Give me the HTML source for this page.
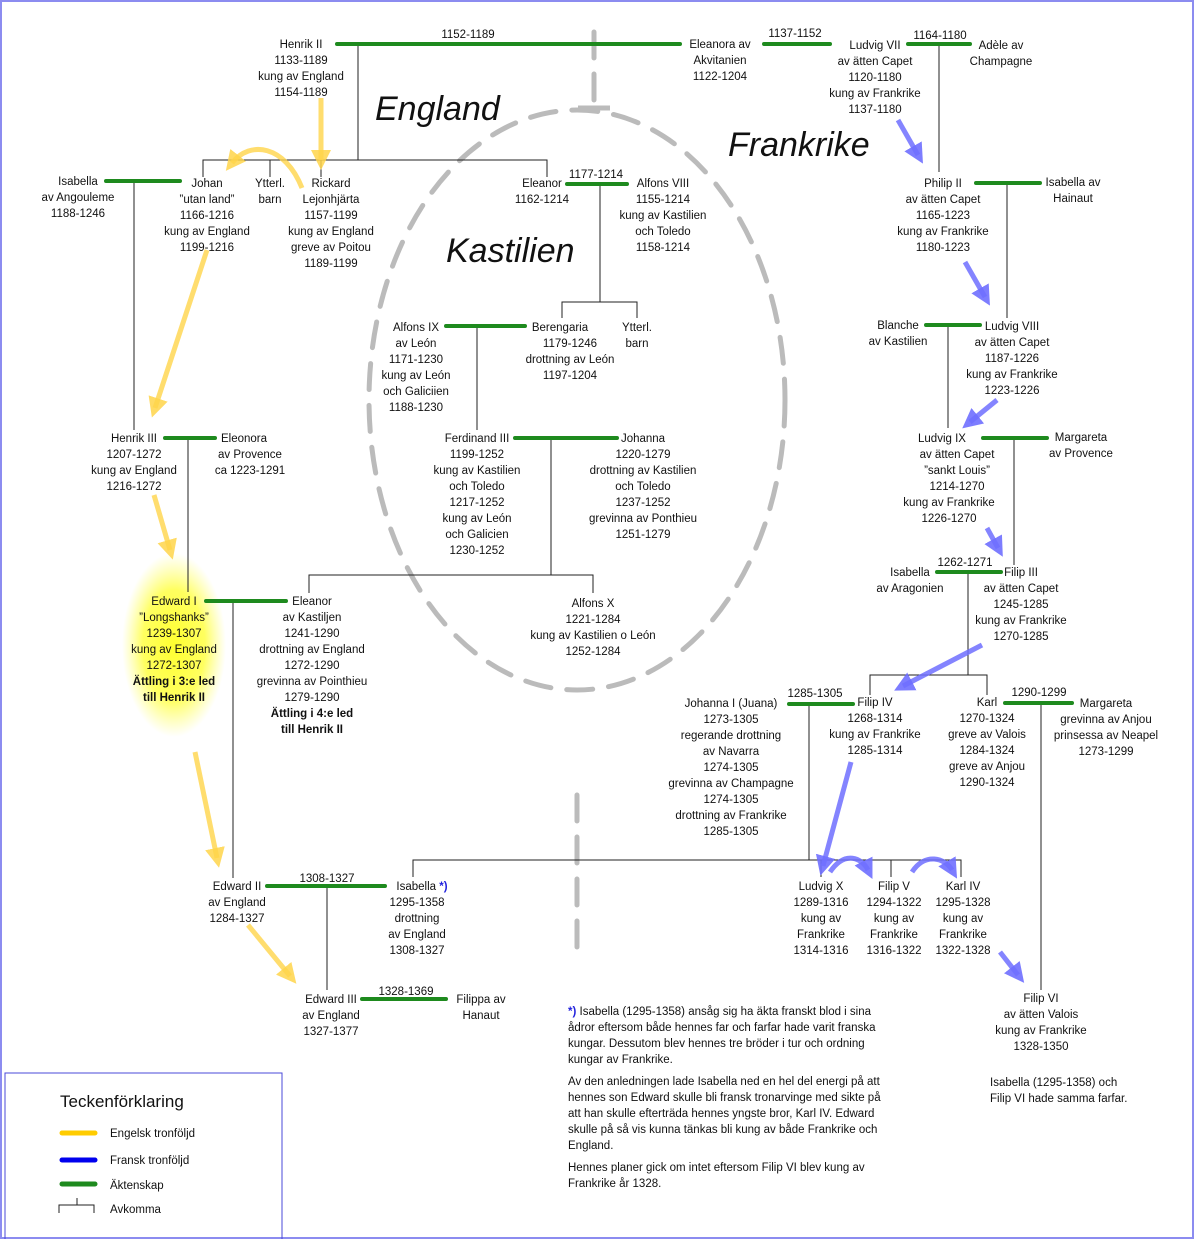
<!DOCTYPE html>
<html><head><meta charset="utf-8"><style>
html,body{margin:0;padding:0;background:#fff}
svg{display:block}
text{font-family:"Liberation Sans",sans-serif;font-size:11.5px;fill:#111}
.c{text-anchor:middle}
.g{stroke:#1e8a1e;stroke-width:4;stroke-linecap:round}
.k{stroke:#222;stroke-width:1;fill:none}
.y{stroke:#ffd54a;stroke-opacity:.8;stroke-width:5;fill:none}
.b{stroke:#6f6fff;stroke-opacity:.85;stroke-width:5;fill:none}
.big{font-size:34px;font-style:italic}
</style></head><body>
<svg width="1194" height="1239" viewBox="0 0 1194 1239" xmlns="http://www.w3.org/2000/svg">
<defs>
<radialGradient id="glow"><stop offset="0" stop-color="#ffff30"/><stop offset=".6" stop-color="#ffff60"/><stop offset="1" stop-color="#ffff80" stop-opacity="0"/></radialGradient>
<marker id="ya" markerWidth="4" markerHeight="4" refX="2" refY="2" orient="auto" markerUnits="strokeWidth"><path d="M0,0 L4,2 L0,4z" fill="#ffd54a" fill-opacity=".85"/></marker>
<marker id="ba" markerWidth="4" markerHeight="4" refX="2" refY="2" orient="auto" markerUnits="strokeWidth"><path d="M0,0 L4,2 L0,4z" fill="#6f6fff" fill-opacity=".9"/></marker>
</defs>
<rect x="1" y="1" width="1192" height="1237" fill="none" stroke="#8c8cf0" stroke-width="2"/>
<ellipse cx="174" cy="645" rx="52" ry="92" fill="url(#glow)"/>

<g stroke="#bbb" stroke-width="5" fill="none" stroke-dasharray="26,16" stroke-linecap="round">
<ellipse cx="577" cy="400" rx="208" ry="290"/>
<line x1="577" y1="795" x2="577" y2="952"/>
<line x1="594" y1="32" x2="594" y2="100"/>
</g>
<line x1="578" y1="108" x2="610" y2="108" stroke="#bbb" stroke-width="5"/>

<g class="k">
<path d="M358 44V160M203 177V160H547V177M270 160V177M321 160V177"/>
<path d="M134 181V430"/>
<path d="M939 44V172"/>
<path d="M600 184V302M562 318V302H637V318"/>
<path d="M1007 183V318"/>
<path d="M477 326V430"/>
<path d="M948 325V428"/>
<path d="M188 438V592"/>
<path d="M551 438V575M309 593V575H593V593"/>
<path d="M1014 438V565"/>
<path d="M233 601V878"/>
<path d="M968 572V675M870 695V675H987V695"/>
<path d="M809 704V860M413 877V860H961V877M821 860V877M891 860V877"/>
<path d="M327 886V990"/>
<path d="M1041 703V990"/>
</g>

<g class="g">
<line x1="337" y1="44" x2="680" y2="44"/>
<line x1="764" y1="44" x2="830" y2="44"/>
<line x1="908" y1="44" x2="970" y2="44"/>
<line x1="106" y1="181" x2="180" y2="181"/>
<line x1="567" y1="184" x2="627" y2="184"/>
<line x1="976" y1="183" x2="1040" y2="183"/>
<line x1="446" y1="326" x2="525" y2="326"/>
<line x1="926" y1="325" x2="980" y2="325"/>
<line x1="165" y1="438" x2="215" y2="438"/>
<line x1="515" y1="438" x2="617" y2="438"/>
<line x1="983" y1="438" x2="1047" y2="438"/>
<line x1="206" y1="601" x2="286" y2="601"/>
<line x1="937" y1="572" x2="1001" y2="572"/>
<line x1="789" y1="704" x2="853" y2="704"/>
<line x1="1005" y1="703" x2="1072" y2="703"/>
<line x1="267" y1="886" x2="385" y2="886"/>
<line x1="362" y1="999" x2="446" y2="999"/>
</g>

<g class="y" marker-end="url(#ya)">
<path d="M321 98V160"/>
<path d="M302 188C285 145 250 140 232 163"/>
<path d="M207 250L155 408"/>
<path d="M154 495L170 550"/>
<path d="M195 752L217 858"/>
<path d="M248 925L290 976"/>
</g>
<g class="b" marker-end="url(#ba)">
<path d="M898 120L918 155"/>
<path d="M965 262L985 297"/>
<path d="M997 400L970 422"/>
<path d="M987 528L998 548"/>
<path d="M982 645L903 686"/>
<path d="M851 762L823 866"/>
<path d="M830 872C845 850 862 858 868 870"/>
<path d="M912 872C925 852 945 858 952 870"/>
<path d="M1000 952L1018 975"/>
</g>

<text class="big" x="375" y="120">England</text>
<text class="big" x="728" y="156">Frankrike</text>
<text class="big" x="446" y="262">Kastilien</text>

<g class="c">
<text x="468" y="38">1152-1189</text>
<text x="795" y="37">1137-1152</text>
<text x="940" y="39">1164-1180</text>
<text x="596" y="178">1177-1214</text>
<text x="965" y="566">1262-1271</text>
<text x="815" y="697">1285-1305</text>
<text x="1039" y="696">1290-1299</text>
<text x="327" y="882">1308-1327</text>
<text x="406" y="995">1328-1369</text>
</g>

<g class="c">
<text x="301" y="48"><tspan x="301">Henrik II</tspan><tspan x="301" dy="16">1133-1189</tspan><tspan x="301" dy="16">kung av England</tspan><tspan x="301" dy="16">1154-1189</tspan></text>
<text x="720" y="48"><tspan x="720">Eleanora av</tspan><tspan x="720" dy="16">Akvitanien</tspan><tspan x="720" dy="16">1122-1204</tspan></text>
<text x="875" y="49"><tspan x="875">Ludvig VII</tspan><tspan x="875" dy="16">av ätten Capet</tspan><tspan x="875" dy="16">1120-1180</tspan><tspan x="875" dy="16">kung av Frankrike</tspan><tspan x="875" dy="16">1137-1180</tspan></text>
<text x="1001" y="49"><tspan x="1001">Adèle av</tspan><tspan x="1001" dy="16">Champagne</tspan></text>
<text x="78" y="185"><tspan x="78">Isabella</tspan><tspan x="78" dy="16">av Angouleme</tspan><tspan x="78" dy="16">1188-1246</tspan></text>
<text x="207" y="187"><tspan x="207">Johan</tspan><tspan x="207" dy="16">”utan land”</tspan><tspan x="207" dy="16">1166-1216</tspan><tspan x="207" dy="16">kung av England</tspan><tspan x="207" dy="16">1199-1216</tspan></text>
<text x="270" y="187"><tspan x="270">Ytterl.</tspan><tspan x="270" dy="16">barn</tspan></text>
<text x="331" y="187"><tspan x="331">Rickard</tspan><tspan x="331" dy="16">Lejonhjärta</tspan><tspan x="331" dy="16">1157-1199</tspan><tspan x="331" dy="16">kung av England</tspan><tspan x="331" dy="16">greve av Poitou</tspan><tspan x="331" dy="16">1189-1199</tspan></text>
<text x="542" y="187"><tspan x="542">Eleanor</tspan><tspan x="542" dy="16">1162-1214</tspan></text>
<text x="663" y="187"><tspan x="663">Alfons VIII</tspan><tspan x="663" dy="16">1155-1214</tspan><tspan x="663" dy="16">kung av  Kastilien</tspan><tspan x="663" dy="16">och Toledo</tspan><tspan x="663" dy="16">1158-1214</tspan></text>
<text x="943" y="187"><tspan x="943">Philip II</tspan><tspan x="943" dy="16">av ätten Capet</tspan><tspan x="943" dy="16">1165-1223</tspan><tspan x="943" dy="16">kung av Frankrike</tspan><tspan x="943" dy="16">1180-1223</tspan></text>
<text x="1073" y="186"><tspan x="1073">Isabella av</tspan><tspan x="1073" dy="16">Hainaut</tspan></text>
<text x="416" y="331"><tspan x="416">Alfons IX</tspan><tspan x="416" dy="16">av León</tspan><tspan x="416" dy="16">1171-1230</tspan><tspan x="416" dy="16">kung av León</tspan><tspan x="416" dy="16">och Galiciien</tspan><tspan x="416" dy="16">1188-1230</tspan></text>
<text x="570" y="331"><tspan x="560">Berengaria</tspan><tspan x="570" dy="16">1179-1246</tspan><tspan x="570" dy="16">drottning av León</tspan><tspan x="570" dy="16">1197-1204</tspan></text>
<text x="637" y="331"><tspan x="637">Ytterl.</tspan><tspan x="637" dy="16">barn</tspan></text>
<text x="898" y="329"><tspan x="898">Blanche</tspan><tspan x="898" dy="16">av Kastilien</tspan></text>
<text x="1012" y="330"><tspan x="1012">Ludvig VIII</tspan><tspan x="1012" dy="16">av ätten Capet</tspan><tspan x="1012" dy="16">1187-1226</tspan><tspan x="1012" dy="16">kung av Frankrike</tspan><tspan x="1012" dy="16">1223-1226</tspan></text>
<text x="134" y="442"><tspan x="134">Henrik III</tspan><tspan x="134" dy="16">1207-1272</tspan><tspan x="134" dy="16">kung av England</tspan><tspan x="134" dy="16">1216-1272</tspan></text>
<text x="250" y="442"><tspan x="244">Eleonora</tspan><tspan x="250" dy="16">av Provence</tspan><tspan x="250" dy="16">ca 1223-1291</tspan></text>
<text x="477" y="442"><tspan x="477">Ferdinand III</tspan><tspan x="477" dy="16">1199-1252</tspan><tspan x="477" dy="16">kung av Kastilien</tspan><tspan x="477" dy="16">och Toledo</tspan><tspan x="477" dy="16">1217-1252</tspan><tspan x="477" dy="16">kung av León</tspan><tspan x="477" dy="16">och Galicien</tspan><tspan x="477" dy="16">1230-1252</tspan></text>
<text x="643" y="442"><tspan x="643">Johanna</tspan><tspan x="643" dy="16">1220-1279</tspan><tspan x="643" dy="16">drottning av Kastilien</tspan><tspan x="643" dy="16">och Toledo</tspan><tspan x="643" dy="16">1237-1252</tspan><tspan x="643" dy="16">grevinna av Ponthieu</tspan><tspan x="643" dy="16">1251-1279</tspan></text>
<text x="957" y="442"><tspan x="942">Ludvig IX</tspan><tspan x="957" dy="16">av ätten Capet</tspan><tspan x="957" dy="16">”sankt Louis”</tspan><tspan x="957" dy="16">1214-1270</tspan><tspan x="949" dy="16">kung av Frankrike</tspan><tspan x="949" dy="16">1226-1270</tspan></text>
<text x="1081" y="441"><tspan x="1081">Margareta</tspan><tspan x="1081" dy="16">av Provence</tspan></text>
<text x="174" y="605"><tspan x="174">Edward I</tspan><tspan x="174" dy="16">”Longshanks”</tspan><tspan x="174" dy="16">1239-1307</tspan><tspan x="174" dy="16">kung av England</tspan><tspan x="174" dy="16">1272-1307</tspan><tspan x="174" dy="16" font-weight="bold">Ättling i 3:e led</tspan><tspan x="174" dy="16" font-weight="bold">till Henrik II</tspan></text>
<text x="312" y="605"><tspan x="312">Eleanor</tspan><tspan x="312" dy="16">av Kastiljen</tspan><tspan x="312" dy="16">1241-1290</tspan><tspan x="312" dy="16">drottning av England</tspan><tspan x="312" dy="16">1272-1290</tspan><tspan x="312" dy="16">grevinna av Pointhieu</tspan><tspan x="312" dy="16">1279-1290</tspan><tspan x="312" dy="16" font-weight="bold">Ättling i 4:e led</tspan><tspan x="312" dy="16" font-weight="bold">till Henrik II</tspan></text>
<text x="593" y="607"><tspan x="593">Alfons X</tspan><tspan x="593" dy="16">1221-1284</tspan><tspan x="593" dy="16">kung av Kastilien o León</tspan><tspan x="593" dy="16">1252-1284</tspan></text>
<text x="916" y="576"><tspan x="910">Isabella</tspan><tspan x="910" dy="16">av Aragonien</tspan></text>
<text x="1021" y="576"><tspan x="1021">Filip III</tspan><tspan x="1021" dy="16">av ätten Capet</tspan><tspan x="1021" dy="16">1245-1285</tspan><tspan x="1021" dy="16">kung av Frankrike</tspan><tspan x="1021" dy="16">1270-1285</tspan></text>
<text x="731" y="707"><tspan x="731">Johanna I  (Juana)</tspan><tspan x="731" dy="16">1273-1305</tspan><tspan x="731" dy="16">regerande drottning</tspan><tspan x="731" dy="16">av Navarra</tspan><tspan x="731" dy="16">1274-1305</tspan><tspan x="731" dy="16">grevinna av Champagne</tspan><tspan x="731" dy="16">1274-1305</tspan><tspan x="731" dy="16">drottning av Frankrike</tspan><tspan x="731" dy="16">1285-1305</tspan></text>
<text x="875" y="706"><tspan x="875">Filip IV</tspan><tspan x="875" dy="16">1268-1314</tspan><tspan x="875" dy="16">kung av Frankrike</tspan><tspan x="875" dy="16">1285-1314</tspan></text>
<text x="987" y="706"><tspan x="987">Karl</tspan><tspan x="987" dy="16">1270-1324</tspan><tspan x="987" dy="16">greve av Valois</tspan><tspan x="987" dy="16">1284-1324</tspan><tspan x="987" dy="16">greve av Anjou</tspan><tspan x="987" dy="16">1290-1324</tspan></text>
<text x="1106" y="707"><tspan x="1106">Margareta</tspan><tspan x="1106" dy="16">grevinna av Anjou</tspan><tspan x="1106" dy="16">prinsessa av Neapel</tspan><tspan x="1106" dy="16">1273-1299</tspan></text>
<text x="237" y="890"><tspan x="237">Edward II</tspan><tspan x="237" dy="16">av England</tspan><tspan x="237" dy="16">1284-1327</tspan></text>
<text x="417" y="890"><tspan x="422">Isabella <tspan fill="#2222dd" font-weight="bold">*)</tspan></tspan><tspan x="417" dy="16">1295-1358</tspan><tspan x="417" dy="16">drottning</tspan><tspan x="417" dy="16">av England</tspan><tspan x="417" dy="16">1308-1327</tspan></text>
<text x="821" y="890"><tspan x="821">Ludvig X</tspan><tspan x="821" dy="16">1289-1316</tspan><tspan x="821" dy="16">kung av</tspan><tspan x="821" dy="16">Frankrike</tspan><tspan x="821" dy="16">1314-1316</tspan></text>
<text x="894" y="890"><tspan x="894">Filip V</tspan><tspan x="894" dy="16">1294-1322</tspan><tspan x="894" dy="16">kung av</tspan><tspan x="894" dy="16">Frankrike</tspan><tspan x="894" dy="16">1316-1322</tspan></text>
<text x="963" y="890"><tspan x="963">Karl IV</tspan><tspan x="963" dy="16">1295-1328</tspan><tspan x="963" dy="16">kung av</tspan><tspan x="963" dy="16">Frankrike</tspan><tspan x="963" dy="16">1322-1328</tspan></text>
<text x="331" y="1003"><tspan x="331">Edward III</tspan><tspan x="331" dy="16">av England</tspan><tspan x="331" dy="16">1327-1377</tspan></text>
<text x="481" y="1003"><tspan x="481">Filippa av</tspan><tspan x="481" dy="16">Hanaut</tspan></text>
<text x="1041" y="1002"><tspan x="1041">Filip VI</tspan><tspan x="1041" dy="16">av ätten Valois</tspan><tspan x="1041" dy="16">kung av Frankrike</tspan><tspan x="1041" dy="16">1328-1350</tspan></text>
</g>

<text x="990" y="1086"><tspan x="990">Isabella (1295-1358) och</tspan><tspan x="990" dy="16">Filip VI hade samma farfar.</tspan></text>

<text x="568" y="1015"><tspan x="568"><tspan fill="#2222dd" font-weight="bold">*)</tspan>  Isabella (1295-1358) ansåg sig ha äkta franskt blod i sina</tspan><tspan x="568" dy="16">ådror eftersom både hennes far och farfar hade varit franska</tspan><tspan x="568" dy="16">kungar. Dessutom blev hennes  tre bröder i tur och ordning</tspan><tspan x="568" dy="16">kungar av Frankrike.</tspan><tspan x="568" dy="22">Av den anledningen lade Isabella ned en hel del energi på att</tspan><tspan x="568" dy="16">hennes son Edward skulle bli fransk tronarvinge med sikte på</tspan><tspan x="568" dy="16">att han skulle efterträda hennes yngste bror, Karl IV. Edward</tspan><tspan x="568" dy="16">skulle på så vis kunna tänkas bli kung av både Frankrike och</tspan><tspan x="568" dy="16">England.</tspan><tspan x="568" dy="22">Hennes planer gick om intet eftersom Filip VI blev kung av</tspan><tspan x="568" dy="16">Frankrike år 1328.</tspan></text>

<rect x="5" y="1073" width="277" height="170" fill="none" stroke="#4848d8" stroke-width="1"/>
<text x="60" y="1107" style="font-size:17px">Teckenförklaring</text>
<line x1="62" y1="1133" x2="95" y2="1133" stroke="#ffcc00" stroke-width="5" stroke-linecap="round"/>
<line x1="62" y1="1160" x2="95" y2="1160" stroke="#0000ee" stroke-width="5" stroke-linecap="round"/>
<line x1="62" y1="1184" x2="95" y2="1184" stroke="#1e8a1e" stroke-width="5" stroke-linecap="round"/>
<path d="M59 1213V1205H94V1213M77 1205V1198" class="k"/>
<text x="110" y="1137">Engelsk tronföljd</text>
<text x="110" y="1164">Fransk tronföljd</text>
<text x="110" y="1189">Äktenskap</text>
<text x="110" y="1213">Avkomma</text>
</svg>
</body></html>
